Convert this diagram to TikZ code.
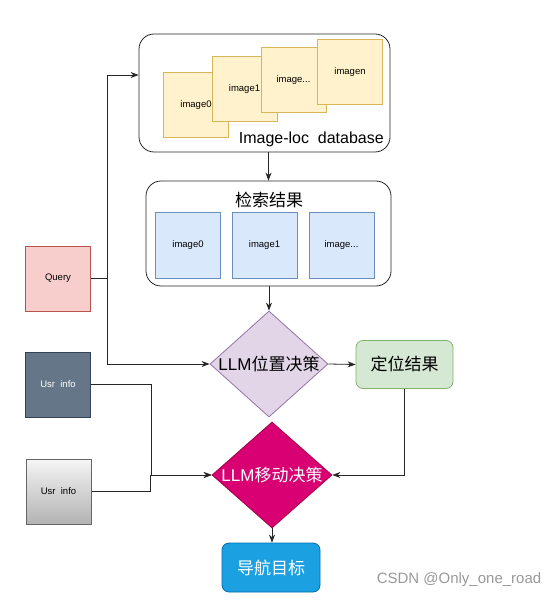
\documentclass[tikz,border=0pt]{standalone}
\usepackage{fontspec}
\setmainfont{Liberation Sans}
\newfontfamily\cjk{Noto Sans CJK SC}
\usetikzlibrary{shapes.geometric,arrows.meta}
\definecolor{imgfill}{HTML}{FFF2CC}
\definecolor{imgline}{HTML}{D6B656}
\definecolor{resfill}{HTML}{DAE8FC}
\definecolor{resline}{HTML}{6C8EBF}
\definecolor{qfill}{HTML}{F8CECC}
\definecolor{qline}{HTML}{B85450}
\definecolor{ufill}{HTML}{647687}
\definecolor{uline}{HTML}{314354}
\definecolor{ugray}{HTML}{666666}
\definecolor{posfill}{HTML}{E1D5E7}
\definecolor{posline}{HTML}{9673A6}
\definecolor{locfill}{HTML}{D5E8D4}
\definecolor{locline}{HTML}{82B366}
\definecolor{movfill}{HTML}{D80073}
\definecolor{movline}{HTML}{A50040}
\definecolor{navfill}{HTML}{1BA1E2}
\definecolor{navline}{HTML}{006EAF}
\begin{document}
\begin{tikzpicture}[x=1pt,y=-1pt,
  panel/.style={draw=black!85, line width=0.8pt, rounded corners=15pt, inner sep=0pt},
  tile/.style={line width=1pt, minimum width=65pt, minimum height=65pt, inner sep=0pt, font=\fontsize{9.5}{11}\selectfont},
  big/.style={font=\fontsize{17}{20}\selectfont},
  wire/.style={line width=0.8pt, black!85, -{Stealth[length=8pt,width=6pt]}}]
\useasboundingbox (0,0) rectangle (556,601);
\draw (264.5,93) node (db) [panel, minimum width=251pt, minimum height=118pt] {};
\draw (196,105.5) node (img0) [tile, draw=imgline, fill=imgfill] {image0};
\draw (244.5,89) node (img1) [tile, draw=imgline, fill=imgfill] {image1};
\draw (293.5,80.5) node (img2) [tile, draw=imgline, fill=imgfill] {image...};
\draw (350,72.5) node (imgn) [tile, draw=imgline, fill=imgfill] {imagen};
\draw (384,139) node (dblabel) [anchor=east, inner sep=0pt, font=\fontsize{16}{19}\selectfont] {Image-loc~ database};
\draw (268.5,233.5) node (res) [panel, minimum width=245pt, minimum height=105pt] {};
\draw (269,200) node (restitle) [big] {\cjk 检索结果};
\draw (188,245.5) node (res0) [tile, draw=resline, fill=resfill] {image0};
\draw (264.5,245.5) node (res1) [tile, draw=resline, fill=resfill] {image1};
\draw (341.5,245.5) node (res2) [tile, draw=resline, fill=resfill] {image...};
\draw (58,278.5) node (query) [tile, draw=qline, fill=qfill] {Query};
\draw (58,384.5) node (usr1) [tile, draw=uline, fill=ufill, text=white] {Usr~ info};
\draw (58.5,491.5) node (usr2) [tile, draw=ugray, top color=black!4, bottom color=black!30] {Usr~ info};
\draw (269,364) node (pos) [diamond, draw=posline, fill=posfill, line width=0.8pt, minimum width=118pt, minimum height=106pt, inner sep=0pt, big] {\makebox[0pt]{LLM{\cjk 位置决策}}};
\draw (404.5,364.5) node (loc) [draw=locline, fill=locfill, line width=0.8pt, rounded corners=7pt, minimum width=97pt, minimum height=48pt, big] {\cjk 定位结果};
\draw (272,475) node (mov) [diamond, draw=movline, fill=movfill, line width=0.8pt, minimum width=120pt, minimum height=106pt, inner sep=0pt, big, text=white] {\makebox[0pt]{LLM{\cjk 移动决策}}};
\draw (271,567.5) node (nav) [draw=navline, fill=navfill, line width=0.8pt, rounded corners=7pt, minimum width=98pt, minimum height=49pt, big, text=white] {\cjk 导航目标};
\draw (459,580) node (mark) [text=black!40, font=\fontsize{15}{18}\selectfont] {CSDN @Only\_one\_road};
\draw [wire] (db.south -| res.north) -- (res.north);
\draw [wire] (res.south -| pos.north) -- (pos.north);
\draw [wire] (pos.east) -- (loc.west);
\draw [wire] (loc.south) |- (mov.east);
\draw [wire] (mov.south) -- (mov.south |- nav.north);
\draw [wire] (query.east) -- ++(16,0) coordinate (qsplit) |- ([yshift=18pt]db.west);
\draw [wire] (qsplit) |- (pos.west);
\draw [wire] (usr1.east) -- ++(60,0) |- (mov.west);
\draw [wire] (usr2.east) -- ++(59,0) |- (mov.west);
\end{tikzpicture}
\end{document}
